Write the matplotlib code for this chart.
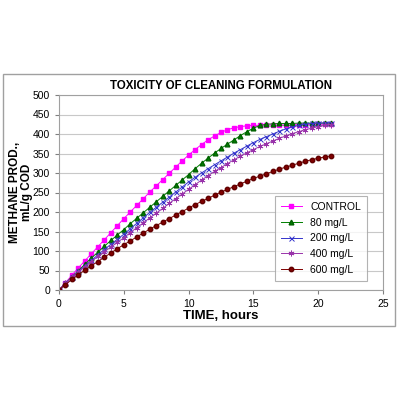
import matplotlib.pyplot as plt
from matplotlib.patches import Rectangle

plt.rcParams['font.family'] = ['Liberation Sans', 'DejaVu Sans']

# time in hours, every half hour
hours = [i * 0.5 for i in range(43)]

control = [0, 19, 38, 57, 75, 93, 111, 129, 147, 165, 183, 200, 217, 234, 251,
           267, 283, 299, 315, 331, 346, 360, 373, 385, 395, 404, 411, 416, 419,
           421, 422, 422, 422, 423, 423, 423, 424, 424, 424, 424, 425, 425, 425]
mg80 = [0, 17, 34, 50, 66, 82, 97, 112, 127, 141, 155, 170, 184, 198, 212, 226,
        240, 254, 268, 282, 296, 311, 325, 338, 351, 363, 374, 385, 396, 406,
        415, 422, 425, 426, 427, 427, 427, 428, 428, 428, 428, 428, 428]
mg200 = [0, 17, 33, 48, 62, 76, 90, 104, 117, 130, 143, 157, 171, 185, 199, 212,
         225, 238, 251, 264, 277, 289, 300, 311, 321, 331, 341, 351, 360, 369,
         378, 386, 393, 400, 407, 413, 418, 422, 425, 427, 428, 428, 429]
mg400 = [0, 17, 33, 47, 60, 73, 86, 98, 110, 122, 134, 147, 160, 172, 185, 197,
         209, 222, 234, 246, 258, 270, 282, 293, 304, 314, 324, 334, 343, 352,
         360, 368, 375, 382, 389, 395, 401, 406, 411, 415, 419, 422, 424]
mg600 = [0, 14, 27, 39, 51, 62, 73, 84, 95, 106, 116, 126, 136, 146, 156, 165,
         174, 183, 192, 201, 210, 219, 227, 235, 243, 251, 258, 265, 272, 279,
         286, 292, 298, 304, 310, 315, 320, 325, 330, 334, 338, 341, 344]

fig = plt.figure(figsize=(4, 4), dpi=100)
fig.patches.append(Rectangle((3 / 400, 1 - 326 / 400), 392 / 400, 252 / 400,
                             transform=fig.transFigure, fill=False,
                             edgecolor='#a0a0a0', linewidth=1))

ax = fig.add_axes([59 / 400, 110 / 400, 324 / 400, 195 / 400])

ax.plot(hours, control, color='#ff00ff', marker='s', markersize=3.2, lw=0.7,
        label='CONTROL')
ax.plot(hours, mg80, color='#008000', marker='^', markersize=3.4, lw=0.7,
        markeredgecolor='#006000', label='80 mg/L')
ax.plot(hours, mg200, color='#3333cc', marker='x', markersize=3.6, lw=0.7,
        markeredgewidth=0.7, label='200 mg/L')
ax.plot(hours, mg400, color='#9933aa', marker=(6, 2, 0), markersize=4.2, lw=0.7,
        markeredgewidth=0.55, label='400 mg/L')
ax.plot(hours, mg600, color='#800000', marker='o', markersize=3.2, lw=0.7,
        markeredgecolor='#600000', label='600 mg/L')

ax.set_xlim(0, 25)
ax.set_ylim(0, 500)
ax.set_xticks(range(0, 26, 5))
ax.set_yticks(range(0, 501, 50))
ax.tick_params(labelsize=7.5, length=3, color='#808080')
ax.yaxis.grid(True, color='#c8c8c8', linewidth=0.8)
ax.set_axisbelow(True)
for s in ax.spines.values():
    s.set_color('#a0a0a0')
    s.set_linewidth(0.8)

ax.set_title('TOXICITY OF CLEANING FORMULATION', fontsize=8.3, fontweight='bold',
             pad=4)
ax.set_xlabel('TIME, hours', fontsize=9.5, fontweight='bold', labelpad=1)
ax.set_ylabel('METHANE PROD.,\nmL/g COD', fontsize=8.5, fontweight='bold',
              linespacing=1.0)
ax.yaxis.set_label_coords(-0.08, 0.5)

leg = ax.legend(loc='lower right', bbox_to_anchor=(0.951, 0.046), fontsize=7.5,
                frameon=True, fancybox=False, edgecolor='#a0a0a0',
                borderaxespad=0, handlelength=2.0, labelspacing=0.55,
                borderpad=0.6)
leg.get_frame().set_linewidth(0.8)

fig.savefig('out.png', dpi=100)
